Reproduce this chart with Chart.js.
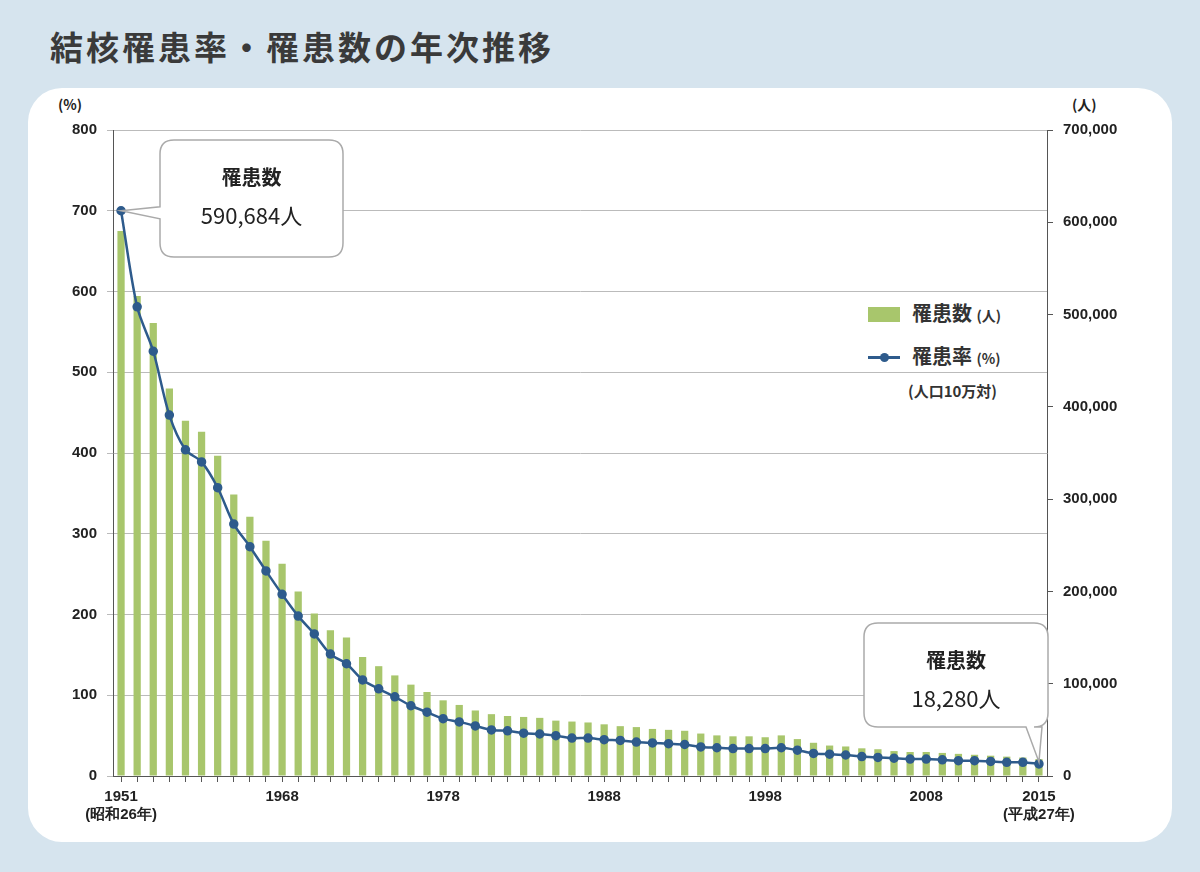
<!DOCTYPE html>
<html lang="ja">
<head>
<meta charset="UTF-8">
<script src="https://cdn.jsdelivr.net/npm/chart.js"></script>
<style>
    body { margin: 0; width: 1200px; height: 872px; background: #d6e4ee; font-family: "Noto Sans CJK JP", sans-serif; position: relative; overflow: hidden; }
    h1 { position: absolute; left: 50px; top: 22px; margin: 0; font-size: 33px; color: #3a3a3a; letter-spacing: 3px; font-weight: bold; }
    .panel { position: absolute; left: 28px; top: 88px; width: 1144px; height: 754px; background: #fff; border-radius: 34px; }
    canvas { position: absolute; left: 0; top: 0; }
    .unit { position: absolute; font-size: 14px; font-weight: bold; color: #222; }
    .legend { position: absolute; left: 868px; font-weight: bold; color: #333; font-size: 20px; }
    .legend small { font-size: 14px; }
</style>
</head>
<body>
<h1>結核罹患率・罹患数の年次推移</h1>
<div class="panel"></div>
<div class="unit" style="left:58px;top:94px">(%)</div>
<div class="unit" style="left:1072px;top:94px">(人)</div>
<div class="legend" style="top:298px"><span style="display:inline-block;width:32px;height:15px;background:#a8c66c;margin-right:12px;vertical-align:-1px"></span>罹患数 <small>(人)</small></div>
<div class="legend" style="top:341px"><span style="display:inline-block;width:32px;height:15px;margin-right:12px;vertical-align:-1px;position:relative"><span style="position:absolute;left:0;top:6px;width:32px;height:3px;background:#2e5b8c"></span><span style="position:absolute;left:12px;top:3px;width:9px;height:9px;border-radius:50%;background:#2e5b8c"></span></span>罹患率 <small>(%)</small></div>
<div class="legend" style="top:380px;left:908px;font-size:15px">(人口10万対)</div>
<canvas id="c" width="1200" height="872"></canvas>
<script>
const years = ['1951','1955','1958','1960','1962','1963','1964','1965','1966','1967','1968',
  '1969','1970','1971','1972','1973','1974','1975','1976','1977','1978','1979','1980','1981','1982','1983','1984','1985','1986','1987','1988','1989',
  '1990','1991','1992','1993','1994','1995','1996','1997','1998','1999','2000','2001','2002','2003','2004','2005','2006','2007','2008','2009',
  '2010','2011','2012','2013','2014','2015'];
const shownYears = ['1951','1968','1978','1988','1998','2008','2015'];
const cases = [590684,520000,491000,420000,385000,373000,347000,305000,281000,255000,230000,
  200000,176000,158000,150000,129000,119000,109000,99000,91000,82000,77000,71000,67000,65000,64000,63000,60000,59000,58000,56000,54000,
  53000,51000,50000,49000,46000,44000,43000,43000,42000,44000,40000,36000,33000,32000,30000,29000,27000,26000,26000,25000,
  24000,23000,22000,21000,20000,18280];
const rate = [700,581,526,447,404,389,357,312,284,254,225,
  198,176,151,139,119,108,98,87,79,71,67,62,57,56,53,52,50,47,47,45,44,
  42,41,40,39,36,35,34,34,34,35,32,28,27,26,24,23,22,21,21,20,
  19,19,18,17,17,15];

function callout(ctx, box, px, py, title, value) {
    const [x, y, w, h] = box, r = 14;
    ctx.save();
    ctx.beginPath();
    ctx.moveTo(x + r, y);
    ctx.lineTo(x + w - r, y); ctx.quadraticCurveTo(x + w, y, x + w, y + r);
    if (py > y + h) {
        ctx.lineTo(x + w, y + h - r); ctx.quadraticCurveTo(x + w, y + h, x + w - r, y + h);
        ctx.lineTo(x + w - 6, y + h); ctx.lineTo(px, py); ctx.lineTo(x + w - 22, y + h);
        ctx.lineTo(x + r, y + h);
    } else {
        ctx.lineTo(x + w, y + h - r); ctx.quadraticCurveTo(x + w, y + h, x + w - r, y + h);
        ctx.lineTo(x + r, y + h);
    }
    ctx.quadraticCurveTo(x, y + h, x, y + h - r);
    if (px < x) {
        ctx.lineTo(x, py + 8); ctx.lineTo(px, py); ctx.lineTo(x, py - 4);
    }
    ctx.lineTo(x, y + r); ctx.quadraticCurveTo(x, y, x + r, y);
    ctx.closePath();
    ctx.fillStyle = '#fff'; ctx.fill();
    ctx.strokeStyle = '#aaa'; ctx.lineWidth = 1.5; ctx.stroke();
    ctx.fillStyle = '#222'; ctx.textAlign = 'center';
    ctx.font = 'bold 20px "Noto Sans CJK JP"';
    ctx.fillText(title, x + w / 2, y + 45);
    ctx.font = '22px "Noto Sans CJK JP"';
    ctx.fillText(value, x + w / 2, y + 84);
    ctx.restore();
}

const calloutPlugin = {
    id: 'callouts',
    afterDatasetsDraw(chart) {
        const ctx = chart.ctx, x = chart.scales.x, yl = chart.scales.yl;
        const n = years.length - 1;
        callout(ctx, [160, 140, 183, 117], x.getPixelForValue(0), yl.getPixelForValue(rate[0]),
            '罹患数', cases[0].toLocaleString('en-US') + '人');
        callout(ctx, [864, 623, 184, 104], x.getPixelForValue(n), yl.getPixelForValue(rate[n]) - 2,
            '罹患数', cases[n].toLocaleString('en-US') + '人');
    }
};

const tickFont = { family: 'Liberation Sans', size: 15, weight: 'bold' };
new Chart(document.getElementById('c'), {
    data: {
        labels: years,
        datasets: [
            { type: 'line', data: rate, yAxisID: 'yl', borderColor: '#2e5b8c', backgroundColor: '#2e5b8c',
              borderWidth: 2.5, pointRadius: 3.5, tension: 0.3, order: 0 },
            { type: 'bar', data: cases, yAxisID: 'yr', backgroundColor: '#a8c66c',
              barPercentage: 0.45, categoryPercentage: 1, order: 1 }
        ]
    },
    options: {
        responsive: false, animation: false,
        layout: { autoPadding: false, padding: { top: 130, left: 0, right: 0, bottom: 0 } },
        plugins: { legend: { display: false }, tooltip: { enabled: false } },
        scales: {
            x: {
                offset: true,
                afterFit(s) { s.height = 96; },
                grid: { drawOnChartArea: false, color: '#555', tickLength: 6, offset: false },
                border: { color: '#555' },
                ticks: {
                    autoSkip: false, maxRotation: 0, color: '#222', font: tickFont, padding: 6,
                    callback(v) {
                        const y = years[v];
                        if (y === '1951') return ['1951', '(昭和26年)'];
                        if (y === '2015') return ['2015', '(平成27年)'];
                        return shownYears.includes(y) ? y : '';
                    }
                }
            },
            yl: {
                position: 'left', min: 0, max: 800,
                afterFit(s) { s.width = 113; },
                grid: { color: '#bbb', tickLength: 6 },
                border: { color: '#555' },
                ticks: { stepSize: 100, color: '#222', font: tickFont, padding: 10 }
            },
            yr: {
                position: 'right', min: 0, max: 700000,
                afterFit(s) { s.width = 153; },
                grid: { drawOnChartArea: false, tickLength: 6, color: '#555' },
                border: { color: '#555' },
                ticks: { stepSize: 100000, color: '#222', font: tickFont, padding: 10,
                         callback: v => v.toLocaleString('en-US') }
            }
        }
    },
    plugins: [calloutPlugin]
});
</script>
</body>
</html>
